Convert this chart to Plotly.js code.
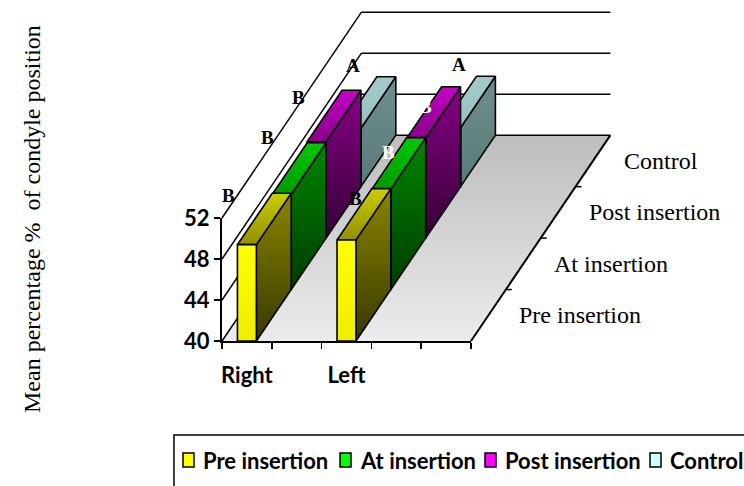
<!DOCTYPE html>
<html>
<head>
<meta charset="utf-8">
<script src="https://cdn.plot.ly/plotly-3.0.1.min.js"></script>
<style>html,body{margin:0;padding:0;background:#fff;}#chart{width:744px;height:486px;}</style>
</head>
<body>
<div id="chart"></div>
<script>
// ---------------- data ----------------
const categories = ['Right', '', 'Left', '', ''];
const seriesNames = ['Pre insertion', 'At insertion', 'Post insertion', 'Control'];
const preInsertion  = [49.4, null, 49.85, null, null];
const atInsertion   = [49.3, null, 49.8, null, null];
const postInsertion = [49.4, null, 49.75, null, null];
const controlValues = [45.7, null, 45.75, null, null];
const preLetters     = ['B', '', 'B', '', ''];
const atLetters      = ['B', '', 'B', '', ''];
const postLetters    = ['B', '', 'B', '', ''];
const controlLetters = ['A', '', 'A', '', ''];
const yTickValues = [40, 44, 48, 52];
const yTitle = 'Mean percentage %  of condyle position';

// ---------------- geometry / style ----------------
const W = 744, H = 486;
const X0PX = 222, CATPX = 49.8, Y0PX = 341, VALPX = 10.25;
const BASE = 40, TOP = 52;
const KX = 0.70, KY = 5.02;        // oblique offset per series slot
const BAR_W = 0.38;
const NC = categories.length, NS = seriesNames.length;
const seriesValues = [preInsertion, atInsertion, postInsertion, controlValues];
const seriesLetters = [preLetters, atLetters, postLetters, controlLetters];
const letterPx = [
  [[228,195], null, [355,198], null, null],
  [[267,138], null, [388,152], null, null],
  [[298,97],  null, [425,106], null, null],
  [[353,66],  null, [459,64],  null, null]
];
const letterColor = [
  ['#000', null, '#000', null, null],
  ['#000', null, '#fff', null, null],
  ['#000', null, '#fff', null, null],
  ['#000', null, '#000', null, null]
];
const faceStyles = [
  {front:['#eeee00','#ffff00'], top:['#929000','#cccc00'], side:['#383800','#8a8600']},
  {front:['#00dd00','#00ff00'], top:['#009a00','#00c800'], side:['#003c00','#008600']},
  {front:['#dd00dd','#ff00ff'], top:['#860086','#c800c8'], side:['#360036','#860086']},
  {front:['#bfeeee','#ccffff'], top:['#98c2c2','#a2caca'], side:['#5a7a7a','#6f8f8f']}
];
const legendColors = ['#ffff00', '#00ff00', '#ff00ff', '#ccffff'];

function P(c, v, d) { return [c + d * KX, v + d * KY]; }

function polyTrace(pts, fill, lw) {
  const x = pts.map(p => p[0]); x.push(pts[0][0]);
  const y = pts.map(p => p[1]); y.push(pts[0][1]);
  const t = {type:'scatter', mode:'lines', x:x, y:y, fill:'toself',
    line:{color:'#000', width: lw === undefined ? 1.6 : lw}, hoverinfo:'skip', showlegend:false};
  if (Array.isArray(fill)) t.fillgradient = {type:'vertical', colorscale:[[0, fill[0]], [1, fill[1]]]};
  else t.fillcolor = fill;
  return t;
}
function segTrace(segs, width) {
  const x = [], y = [];
  segs.forEach(s => { x.push(s[0][0], s[1][0], null); y.push(s[0][1], s[1][1], null); });
  return {type:'scatter', mode:'lines', x:x, y:y, line:{color:'#000', width:width}, hoverinfo:'skip', showlegend:false};
}

const traces = [];
// floor
traces.push(polyTrace([P(0,BASE,0), P(NC,BASE,0), P(NC,BASE,NS), P(0,BASE,NS)], ['#ececec','#bdbdbd'], 0));
// walls gridlines
traces.push(segTrace(yTickValues.map(v => [P(0,v,0), P(0,v,NS)]), 1.5));
traces.push(segTrace(yTickValues.map(v => [P(0,v,NS), P(NC,v,NS)]), 1.5));
// depth axis edge + ticks
traces.push(segTrace([[P(NC,BASE,0), P(NC,BASE,NS)]], 2));
const dTicks = [];
for (let k = 1; k < NS; k++) { const a = P(NC,BASE,k); dTicks.push([a, [a[0] + 0.12, a[1]]]); }
traces.push(segTrace(dTicks, 1.5));

// bars, back to front
for (let s = NS - 1; s >= 0; s--) {
  for (let i = 0; i < NC; i++) {
    const val = seriesValues[s][i];
    if (val === null || val === undefined) continue;
    const c0 = i + 0.5 - BAR_W / 2, c1 = i + 0.5 + BAR_W / 2;
    const st = faceStyles[s];
    traces.push(polyTrace([P(c1,BASE,s), P(c1,BASE,s+1), P(c1,val,s+1), P(c1,val,s)], st.side));
    traces.push(polyTrace([P(c0,val,s), P(c1,val,s), P(c1,val,s+1), P(c0,val,s+1)], st.top));
    traces.push(polyTrace([P(c0,BASE,s), P(c1,BASE,s), P(c1,val,s), P(c0,val,s)], st.front));
  }
}
// dummy trace for the front axes subplot
traces.push({type:'scatter', x:[null], y:[null], xaxis:'x2', yaxis:'y2', showlegend:false, hoverinfo:'skip'});

const annotations = [];
const serif = 'Liberation Serif, Times New Roman, serif';
const sans = 'Lato, Carlito, Calibri, sans-serif';
// depth labels
seriesNames.forEach((name, s) => {
  const p = P(NC, BASE, s + 0.5);
  annotations.push({x:p[0], y:p[1], xref:'x', yref:'y', text:name, showarrow:false,
    xanchor:'left', yanchor:'middle', xshift:29, font:{family:serif, size:24, color:'#000'}});
});
// letters
for (let s = 0; s < NS; s++) for (let i = 0; i < NC; i++) {
  if (!seriesLetters[s][i]) continue;
  const px = letterPx[s][i];
  annotations.push({x:px[0]/W, y:1-px[1]/H, xref:'paper', yref:'paper', text:seriesLetters[s][i], showarrow:false,
    xanchor:'center', yanchor:'middle', font:{family:serif, size:19, weight:'bold', color:letterColor[s][i]}});
}
// y title
annotations.push({x:32/W, y:1-219/H, xref:'paper', yref:'paper', text:yTitle, textangle:-90, showarrow:false,
  xanchor:'center', yanchor:'middle', font:{family:serif, size:24, color:'#000'}});

// legend (manual)
const shapes = [];
shapes.push({type:'rect', xref:'paper', yref:'paper', x0:174/W, x1:760/W, y0:-0.05, y1:1-435/H,
  line:{color:'#000', width:1.5}, fillcolor:'rgba(0,0,0,0)'});
const legendX = [183, 340, 485, 650];
seriesNames.forEach((name, s) => {
  const x0 = legendX[s];
  shapes.push({type:'rect', xref:'paper', yref:'paper', x0:x0/W, x1:(x0+11)/W, y0:1-467/H, y1:1-453/H,
    line:{color:'#000', width:1.5}, fillcolor:legendColors[s]});
  annotations.push({x:(x0+18)/W, y:1-460/H, xref:'paper', yref:'paper', text:name, showarrow:false,
    xanchor:'left', yanchor:'middle', font:{family:sans, size:22, weight:'bold', color:'#000'}});
});

const catTickVals = [], catTickText = [];
categories.forEach((c, i) => { if (c) { catTickVals.push(i + 0.5); catTickText.push(c); } });
const minorVals = []; for (let i = 0; i <= NC; i++) minorVals.push(i);

const layout = {
  width: W, height: H, autosize:false,
  margin:{l:0, r:0, t:0, b:0, pad:0},
  paper_bgcolor:'#fff', plot_bgcolor:'rgba(0,0,0,0)',
  showlegend:false,
  xaxis:{domain:[0,1], range:[-X0PX/CATPX, (W-X0PX)/CATPX], visible:false, fixedrange:true},
  yaxis:{domain:[0,1], range:[BASE-(H-Y0PX)/VALPX, BASE+Y0PX/VALPX], visible:false, fixedrange:true},
  xaxis2:{domain:[X0PX/W, (X0PX+NC*CATPX)/W], range:[0,NC], anchor:'y2', showline:true, linecolor:'#000', linewidth:2,
    tickmode:'array', tickvals:catTickVals, ticktext:catTickText, ticks:'', showgrid:false, zeroline:false,
    minor:{tickmode:'array', tickvals:minorVals, ticks:'outside', ticklen:6, tickwidth:1.5, tickcolor:'#000', showgrid:false},
    tickfont:{family:sans, size:22, weight:'bold', color:'#000'}, ticklabelstandoff:14, fixedrange:true},
  yaxis2:{domain:[1-Y0PX/H, 1-(Y0PX-(TOP-BASE)*VALPX)/H], range:[BASE,TOP], anchor:'x2', showline:true, linecolor:'#000', linewidth:2,
    tickmode:'array', tickvals:yTickValues, ticks:'outside', ticklen:6, tickwidth:1.5, tickcolor:'#000',
    showgrid:false, zeroline:false, tickfont:{family:sans, size:22, weight:'bold', color:'#000'}, fixedrange:true},
  annotations:annotations,
  shapes:shapes
};
Plotly.newPlot('chart', traces, layout, {displayModeBar:false, staticPlot:true});
</script>
</body>
</html>
